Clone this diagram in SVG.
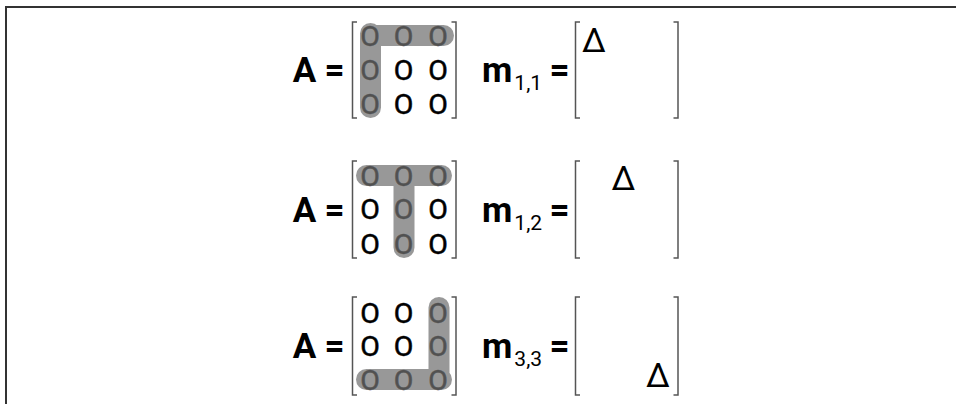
<svg xmlns="http://www.w3.org/2000/svg" width="956" height="404" viewBox="0 0 956 404">
<style>
.frame{fill:none;stroke:#333;stroke-width:2}
.br{fill:none;stroke:#555;stroke-width:1.5}
.bold{font-family:Roboto,"Liberation Sans",sans-serif;font-weight:bold;font-size:35px;fill:#000}
.sub{font-family:Roboto,"Liberation Sans",sans-serif;font-size:21px;fill:#000}
.o{font-family:Roboto,"Liberation Sans",sans-serif;font-size:28.5px;fill:#000;stroke:#000;stroke-width:0.5;text-anchor:middle}
.d{font-family:Roboto,"Liberation Sans",sans-serif;font-size:34px;fill:#000;text-anchor:middle}
.band{fill:none;stroke:#707070;stroke-opacity:0.72;stroke-width:21;stroke-linecap:round;stroke-linejoin:round}
</style>
<g id="frame"><path class="frame" d="M6,404 V7 H956"/></g>

<g id="row1">
  <text class="bold" x="304.5" y="82" text-anchor="middle">A</text>
  <text class="bold" x="334.5" y="82" text-anchor="middle">=</text>
  <path class="br" d="M357,22 H352.5 V118 H357 M451.5,22 H456 V118 H451.5"/>
  <g>
    <text class="o" x="370" y="46">O</text><text class="o" x="403.5" y="46">O</text><text class="o" x="438" y="46">O</text>
    <text class="o" x="370" y="79.5">O</text><text class="o" x="403.5" y="79.5">O</text><text class="o" x="438" y="79.5">O</text>
    <text class="o" x="370" y="114">O</text><text class="o" x="403.5" y="114">O</text><text class="o" x="438" y="114">O</text>
  </g>
  <path class="band" d="M443.5,35.5 H370.5 M370.5,33.5 V107.5"/>
  <text class="bold" x="482" y="82">m<tspan class="sub" dx="2" dy="8" font-weight="normal">1,1</tspan></text>
  <text class="bold" x="559.5" y="82" text-anchor="middle">=</text>
  <path class="br" d="M580,22 H575.5 V118 H580 M673.5,22 H678 V118 H673.5"/>
  <text class="d" x="594" y="52">Δ</text>
</g>

<g id="row2">
  <text class="bold" x="304.5" y="222" text-anchor="middle">A</text>
  <text class="bold" x="334.5" y="222" text-anchor="middle">=</text>
  <path class="br" d="M357,161 H352.5 V258 H357 M451.5,161 H456 V258 H451.5"/>
  <g>
    <text class="o" x="370" y="186">O</text><text class="o" x="403.5" y="186">O</text><text class="o" x="438" y="186">O</text>
    <text class="o" x="370" y="219">O</text><text class="o" x="403.5" y="219">O</text><text class="o" x="438" y="219">O</text>
    <text class="o" x="370" y="253.5">O</text><text class="o" x="403.5" y="253.5">O</text><text class="o" x="438" y="253.5">O</text>
  </g>
  <path class="band" d="M366.5,175.5 H441.5 M404,175.5 V247.5"/>
  <text class="bold" x="482" y="222">m<tspan class="sub" dx="2" dy="8" font-weight="normal">1,2</tspan></text>
  <text class="bold" x="559.5" y="222" text-anchor="middle">=</text>
  <path class="br" d="M580,161 H575.5 V258 H580 M673.5,161 H678 V258 H673.5"/>
  <text class="d" x="623.5" y="190">Δ</text>
</g>

<g id="row3">
  <text class="bold" x="304.5" y="358" text-anchor="middle">A</text>
  <text class="bold" x="334.5" y="358" text-anchor="middle">=</text>
  <path class="br" d="M357,297 H352.5 V395 H357 M451.5,297 H456 V395 H451.5"/>
  <g>
    <text class="o" x="370" y="323">O</text><text class="o" x="403.5" y="323">O</text><text class="o" x="438" y="323">O</text>
    <text class="o" x="370" y="356">O</text><text class="o" x="403.5" y="356">O</text><text class="o" x="438" y="356">O</text>
    <text class="o" x="370" y="390">O</text><text class="o" x="403.5" y="390">O</text><text class="o" x="438" y="390">O</text>
  </g>
  <path class="band" d="M439,307.5 V379.5 M441.5,379.5 H366.5"/>
  <text class="bold" x="482" y="358">m<tspan class="sub" dx="2" dy="8" font-weight="normal">3,3</tspan></text>
  <text class="bold" x="559.5" y="358" text-anchor="middle">=</text>
  <path class="br" d="M580,297 H575.5 V395 H580 M673.5,297 H678 V395 H673.5"/>
  <text class="d" x="658" y="387">Δ</text>
</g>
</svg>
